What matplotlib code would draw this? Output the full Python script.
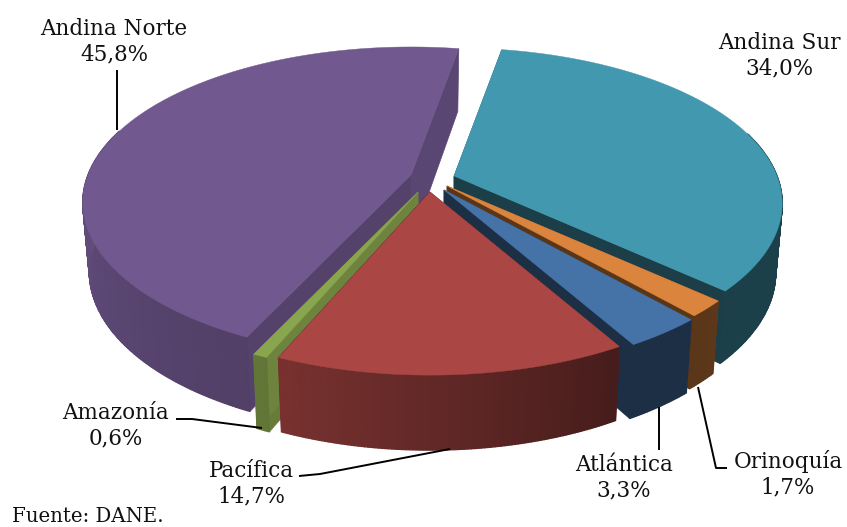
#!/usr/bin/env python3
import numpy as np
import matplotlib
matplotlib.use('Agg')
import matplotlib.pyplot as plt
from matplotlib.colors import to_rgb

names = ['Andina Sur', 'Orinoquía', 'Atlántica', 'Pacífica', 'Amazonía', 'Andina Norte']
shares = [34.0, 1.7, 3.3, 14.7, 0.6, 45.8]
colors = ['#4198af', '#db843d', '#4572a7', '#aa4643', '#89a54e', '#71588f']

# slice tip in pixels, each slice is pulled out a bit differently
tips_x = [454, 447, 444, 430, 418, 411]
tips_y = [176, 186, 190, 192, 192, 175]
# order the slices get painted, back to front
paint_order = [0, 5, 1, 2, 4, 3]

label_x = [779, 788, 624, 251, 116, 114]
label_y = [56, 474, 478, 484, 426, 42]
leaders = [None,
           [(698, 387), (716, 468), (727, 468)],
           [(659, 407), (659, 450)],
           [(299, 476), (320, 474), (450, 449)],
           [(176, 419), (192, 419), (262, 428)],
           [(117, 70), (117, 130)]]

START = 10.0
RADIUS = 323.0
FLAT = 150.7
PERSP = 0.177
DEPTH = 68.0


def project(theta, tip):
    """Screen position of the rim at angle theta (degrees clockwise from the back)"""
    t = np.radians(theta)
    s = 1 / (1 + PERSP * np.cos(t))
    return tip[0] + RADIUS * np.sin(t) * s, tip[1] - FLAT * np.cos(t) * s, s


def shade(color, k):
    return tuple(c * k for c in to_rgb(color))


def wall(theta):
    return np.interp(theta, [130, 150, 205, 275, 370], [0.42, 0.41, 0.72, 0.88, 0.88])


fig = plt.figure(figsize=(8.47, 5.27), dpi=100)
ax = fig.add_axes([0, 0, 1, 1])
ax.set_xlim(0, 847)
ax.set_ylim(527, 0)
ax.axis('off')

fractions = np.cumsum([0] + shares) / sum(shares) * 360 + START
for i in paint_order:
    tip = (tips_x[i], tips_y[i])
    a, b = fractions[i], fractions[i + 1]
    th = np.linspace(a, b, max(4, int(b - a) * 2))
    x, y, s = project(th, tip)
    down = DEPTH * np.sqrt(s)
    xb = tip[0] + (x - tip[0]) * 0.98
    yb = y + down

    # the two cut faces, the top covers whichever one faces away
    end_k = 0.8 if i in (4, 5) else 0.41
    for j, k in ((0, 0.75), (-1, end_k)):
        ax.fill([tip[0], x[j], xb[j], tip[0]],
                [tip[1], y[j], yb[j], tip[1] + DEPTH],
                color=shade(colors[i], k), lw=0.5)

    # rim, one quad per step so the shading can change along it
    for n in range(len(th) - 1):
        if np.cos(np.radians(th[n])) > 0.3:  # back of the pie, never seen
            continue
        ax.fill([x[n], x[n + 1], xb[n + 1], xb[n]],
                [y[n], y[n + 1], yb[n + 1], yb[n]],
                color=shade(colors[i], wall(th[n])), lw=1.0)

    ax.fill(np.r_[tip[0], x], np.r_[tip[1], y], color=colors[i], lw=0.3)

text_style = dict(family='DejaVu Serif', color='#111111')
for i in range(len(names)):
    label = f"{names[i]}\n{shares[i]:.1f}%".replace('.', ',')
    ax.text(label_x[i], label_y[i], label, ha='center', va='center',
            fontsize=15.5, linespacing=1.22, **text_style)
    if leaders[i]:
        xs, ys = zip(*leaders[i])
        ax.plot(xs, ys, color='black', lw=1.4, solid_capstyle='butt')

ax.text(12, 517, 'Fuente: DANE.', ha='left', va='center', fontsize=14.2, **text_style)

fig.savefig('out.png', dpi=100)
